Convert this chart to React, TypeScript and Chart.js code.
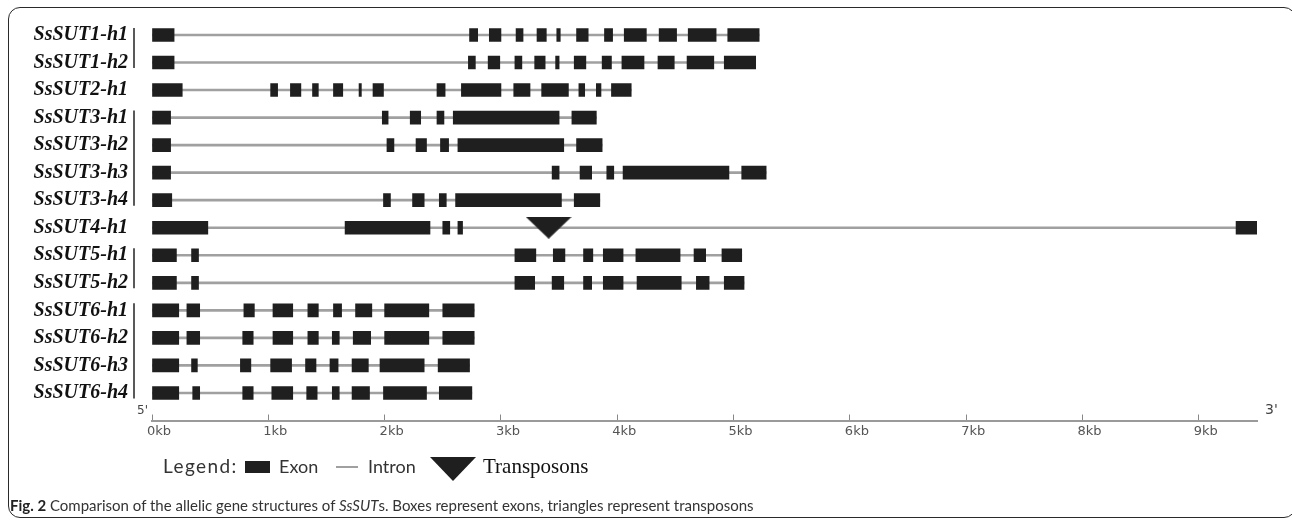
import React, { useEffect, useRef } from "react";
import { Chart, registerables } from "chart.js";

Chart.register(...registerables);

// ---- data (kb positions of exons) ----
const geneNames = [
  "SsSUT1-h1", "SsSUT1-h2", "SsSUT2-h1", "SsSUT3-h1", "SsSUT3-h2", "SsSUT3-h3", "SsSUT3-h4",
  "SsSUT4-h1", "SsSUT5-h1", "SsSUT5-h2", "SsSUT6-h1", "SsSUT6-h2", "SsSUT6-h3", "SsSUT6-h4",
];

const sut1h1 = [[0, 0.19], [2.73, 2.8], [2.9, 3.0], [3.13, 3.19], [3.31, 3.39], [3.48, 3.51], [3.65, 3.75], [3.89, 3.96], [4.06, 4.25], [4.36, 4.51], [4.61, 4.85], [4.95, 5.22]];
const sut1h2 = [[0, 0.19], [2.72, 2.78], [2.89, 2.99], [3.12, 3.18], [3.29, 3.38], [3.47, 3.5], [3.63, 3.73], [3.87, 3.95], [4.04, 4.23], [4.35, 4.49], [4.6, 4.83], [4.92, 5.19]];
const sut2h1 = [[0, 0.26], [1.02, 1.08], [1.19, 1.28], [1.38, 1.43], [1.56, 1.64], [1.78, 1.8], [1.9, 1.99], [2.45, 2.52], [2.66, 3.0], [3.11, 3.25], [3.35, 3.58], [3.67, 3.72], [3.82, 3.86], [3.95, 4.12]];
const sut3h1 = [[0, 0.16], [1.98, 2.03], [2.22, 2.31], [2.45, 2.51], [2.59, 3.5], [3.61, 3.82]];
const sut3h2 = [[0, 0.16], [2.02, 2.08], [2.27, 2.36], [2.48, 2.55], [2.63, 3.54], [3.65, 3.87]];
const sut3h3 = [[0, 0.16], [3.44, 3.5], [3.68, 3.78], [3.91, 3.97], [4.05, 4.96], [5.07, 5.28]];
const sut3h4 = [[0, 0.17], [1.99, 2.05], [2.24, 2.34], [2.47, 2.53], [2.61, 3.52], [3.63, 3.85]];
const sut4h1 = [[0, 0.48], [1.66, 2.39], [2.5, 2.56], [2.63, 2.67], [9.32, 9.5]];
const sut5h1 = [[0, 0.21], [0.34, 0.4], [3.12, 3.3], [3.45, 3.55], [3.71, 3.79], [3.88, 4.05], [4.16, 4.54], [4.66, 4.76], [4.9, 5.07]];
const sut5h2 = [[0, 0.21], [0.34, 0.4], [3.12, 3.29], [3.44, 3.54], [3.71, 3.78], [3.88, 4.05], [4.17, 4.55], [4.68, 4.79], [4.92, 5.09]];
const sut6h1 = [[0, 0.23], [0.3, 0.41], [0.79, 0.88], [1.04, 1.21], [1.34, 1.43], [1.56, 1.63], [1.75, 1.89], [2.0, 2.38], [2.5, 2.77]];
const sut6h2 = [[0, 0.23], [0.3, 0.41], [0.78, 0.87], [1.04, 1.21], [1.34, 1.43], [1.55, 1.61], [1.73, 1.88], [2.0, 2.38], [2.5, 2.77]];
const sut6h3 = [[0, 0.23], [0.34, 0.39], [0.76, 0.85], [1.02, 1.2], [1.32, 1.41], [1.53, 1.6], [1.72, 1.86], [1.96, 2.34], [2.46, 2.73]];
const sut6h4 = [[0, 0.23], [0.35, 0.41], [0.78, 0.87], [1.03, 1.21], [1.33, 1.42], [1.55, 1.61], [1.72, 1.87], [1.99, 2.36], [2.47, 2.75]];

const geneExons = [sut1h1, sut1h2, sut2h1, sut3h1, sut3h2, sut3h3, sut3h4, sut4h1, sut5h1, sut5h2, sut6h1, sut6h2, sut6h3, sut6h4];

const alleleGroups = [[0, 1], [3, 6], [8, 9], [10, 13]];
const transposonGenes = [7];
const transposonPositions = [3.41];

const xTickValues = [0, 1, 2, 3, 4, 5, 6, 7, 8, 9];
const xTickLabels = ["0kb", "1kb", "2kb", "3kb", "4kb", "5kb", "6kb", "7kb", "8kb", "9kb"];
const axisMaxKb = 9.5;

const EXON = "#1f1f1f";
const INTRON = "#a0a0a0";

function makeTriangle(w: number, h: number) {
  const c = document.createElement("canvas");
  c.width = w;
  c.height = h;
  const g = c.getContext("2d")!;
  g.fillStyle = EXON;
  g.beginPath();
  g.moveTo(0, 0);
  g.lineTo(w, 0);
  g.lineTo(w / 2, h);
  g.closePath();
  g.fill();
  return c;
}

const extrasPlugin = {
  id: "extras",
  afterDatasetsDraw(chart: any) {
    const { ctx, scales } = chart;
    const x = scales.x;
    const y = scales.y;
    ctx.save();
    ctx.strokeStyle = "#222";
    ctx.lineWidth = 1.5;
    const bx = x.getPixelForValue(0) - 18;
    alleleGroups.forEach(([a, b]) => {
      ctx.beginPath();
      ctx.moveTo(bx, y.getPixelForValue(a) - 7);
      ctx.lineTo(bx, y.getPixelForValue(b) + 5.5);
      ctx.stroke();
    });
    ctx.fillStyle = "#444";
    ctx.font = '12px "DejaVu Sans"';
    ctx.textBaseline = "alphabetic";
    ctx.fillText("5'", x.getPixelForValue(0) - 15, x.top - 7);
    ctx.font = '14px "DejaVu Sans"';
    ctx.fillText("3'", x.getPixelForValue(axisMaxKb) + 8, x.top - 7);
    ctx.restore();
  },
};

export default function App() {
  const ref = useRef<HTMLCanvasElement>(null);

  useEffect(() => {
    const canvas = ref.current!;
    const tri = makeTriangle(46, 22);
    const exonData = geneExons.flatMap((ex, i) => ex.map((e) => ({ x: e, y: i })));
    const intronData = geneExons.map((ex, i) => ({ x: [ex[0][0], ex[ex.length - 1][1]], y: i }));
    const triData = transposonGenes.map((g, i) => ({ x: transposonPositions[i], y: g }));

    const chart = new Chart(canvas, {
      type: "bar",
      data: {
        datasets: [
          {
            type: "scatter",
            label: "Transposons",
            data: triData,
            pointStyle: tri,
            radius: 10,
            order: 0,
          } as any,
          {
            label: "Exon",
            data: exonData as any,
            backgroundColor: EXON,
            borderWidth: 0,
            barThickness: 13,
            grouped: false,
            order: 1,
          },
          {
            label: "Intron",
            data: intronData as any,
            backgroundColor: INTRON,
            borderWidth: 0,
            barThickness: 2,
            grouped: false,
            order: 2,
          },
        ],
      },
      options: {
        animation: false,
        responsive: false,
        indexAxis: "y",
        layout: { padding: { top: 21.2, right: 35, left: 0, bottom: 0 } },
        plugins: { legend: { display: false }, tooltip: { enabled: false } },
        scales: {
          x: {
            type: "linear",
            position: "bottom",
            min: 0,
            max: axisMaxKb,
            offset: false,
            afterBuildTicks: (s: any) => {
              s.ticks = xTickValues.map((v) => ({ value: v }));
            },
            afterFit: (s: any) => {
              s.height = 100.5;
              s.paddingLeft = 0;
              s.paddingRight = 0;
            },
            grid: { drawOnChartArea: false, drawTicks: true, tickLength: -6, color: "#888", lineWidth: 1 },
            border: { display: true, color: "#9a9a9a", width: 2 },
            ticks: {
              callback: (v: any) => {
                const k = xTickValues.indexOf(Number(v));
                return k >= 0 ? xTickLabels[k] : "";
              },
              font: { family: "DejaVu Sans", size: 13 },
              color: "#555",
              padding: 9,
              labelOffset: 7,
              maxRotation: 0,
              autoSkip: false,
            },
          },
          y: {
            type: "linear",
            min: -0.5,
            max: 14,
            reverse: true,
            offset: false,
            afterBuildTicks: (s: any) => {
              s.ticks = geneNames.map((_, i) => ({ value: i }));
            },
            afterFit: (s: any) => {
              s.width = 152;
              s.paddingTop = 0;
              s.paddingBottom = 0;
            },
            grid: { display: false, drawTicks: false, offset: false },
            border: { display: false },
            ticks: {
              callback: (v: any) => geneNames[Number(v)] ?? "",
              font: { family: "Liberation Serif", size: 20, style: "italic", weight: "bold" },
              color: "#111",
              padding: 24,
              autoSkip: false,
            },
          },
        },
      } as any,
      plugins: [extrasPlugin],
    });
    return () => chart.destroy();
  }, []);

  const legendFont: React.CSSProperties = {
    position: "absolute",
    fontFamily: "Lato, 'Open Sans', sans-serif",
    fontSize: 18,
    color: "#333",
    lineHeight: "20px",
    top: 456,
    whiteSpace: "nowrap",
  };

  return (
    <div style={{ position: "fixed", left: 0, top: 0, width: 1292, height: 521, background: "#fff", overflow: "hidden" }}>
      <div
        style={{
          position: "absolute",
          left: 8,
          top: 7,
          width: 1288,
          height: 511,
          border: "1.5px solid #2a2a2a",
          borderRadius: 12,
          boxSizing: "border-box",
        }}
      />
      <canvas ref={ref} width={1292} height={521} style={{ position: "absolute", left: 0, top: 0, display: "block" }} />
      <span style={{ ...legendFont, left: 163, fontSize: 19, letterSpacing: 1.4 }}>Legend:</span>
      <div style={{ position: "absolute", left: 245, top: 461, width: 25, height: 12, background: EXON }} />
      <span style={{ ...legendFont, left: 279 }}>Exon</span>
      <div style={{ position: "absolute", left: 336, top: 466, width: 22, height: 2, background: INTRON }} />
      <span style={{ ...legendFont, left: 368 }}>Intron</span>
      <div
        style={{
          position: "absolute",
          left: 430,
          top: 457,
          width: 0,
          height: 0,
          borderLeft: "23px solid transparent",
          borderRight: "23px solid transparent",
          borderTop: `24px solid ${EXON}`,
        }}
      />
      <span
        style={{
          position: "absolute",
          left: 483,
          top: 454,
          fontFamily: "'Liberation Serif', serif",
          fontSize: 21,
          color: "#111",
          lineHeight: "24px",
          whiteSpace: "nowrap",
        }}
      >
        Transposons
      </span>
      <div
        style={{
          position: "absolute",
          left: 10,
          top: 496,
          fontFamily: "Lato, 'Open Sans', sans-serif",
          fontSize: 15,
          color: "#333",
          lineHeight: "18px",
          whiteSpace: "nowrap",
        }}
      >
        <b style={{ color: "#222" }}>Fig. 2</b> Comparison of the allelic gene structures of <i>SsSUT</i>s. Boxes represent exons, triangles
        represent transposons
      </div>
    </div>
  );
}
